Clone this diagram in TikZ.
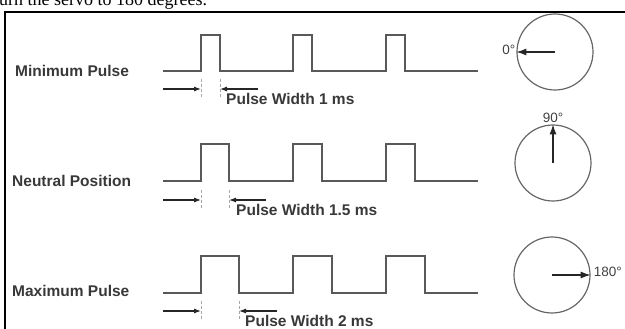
\documentclass[tikz,border=0pt]{standalone}
\usepackage{fontspec}
\setmainfont{Liberation Sans}
\newfontfamily\bodyserif{Liberation Serif}
\usetikzlibrary{arrows.meta,positioning}

\begin{document}
\begin{tikzpicture}[x=1pt,y=-1pt,
    wave/.style={draw=black!65, line width=1.3pt},
    dial/.style={draw=black!60, line width=1.2pt, circle, inner sep=0pt, minimum size=76pt},
    tickline/.style={draw=black!35, densely dashed, line width=0.6pt},
    dimarrow/.style={-{Latex[length=7pt,width=5pt]}, black!85, line width=1.1pt},
    needle/.style={-{Latex[length=10pt,width=7pt]}, black!85, line width=1.1pt},
    rowlabel/.style={font=\bfseries\fontsize{15.5}{17}\selectfont, text=black!78, inner sep=0pt, anchor=west},
    widthlabel/.style={font=\bfseries\fontsize{15.5}{17}\selectfont, text=black!78, inner sep=0pt, anchor=north west},
    deglabel/.style={font=\fontsize{13.5}{15}\selectfont, text=black!75, inner sep=0pt}]
    \useasboundingbox (0,0) rectangle (625,329);

    % Text line above the box
    \node[anchor=base west, inner sep=0pt, font=\bodyserif\fontsize{18}{20}\selectfont] (caption) at (-1,6) {urn the servo to 180 degrees.};

    % Box
    \draw[line width=1.5pt] (5,345) -- (5,12) -- (640,12);

    % Row labels
    \node[rowlabel] (minlabel) at (15,71) {Minimum Pulse};
    \node[rowlabel] (neutlabel) at (12,181) {Neutral Position};
    \node[rowlabel] (maxlabel) at (12,291) {Maximum Pulse};

    % Pulse trains
    \draw[wave] (163,71) -- (201,71) -- (201,35) -- (220,35) -- (220,71) -- (293,71) -- (293,35) -- (312,35) -- (312,71)
        -- (386,71) -- (386,35) -- (405,35) -- (405,71) -- (478,71);
    \draw[wave] (163,181) -- (201,181) -- (201,144) -- (229,144) -- (229,181) -- (293,181) -- (293,144) -- (322,144) -- (322,181)
        -- (386,181) -- (386,144) -- (415,144) -- (415,181) -- (478,181);
    \draw[wave] (163,293) -- (201,293) -- (201,256) -- (239,256) -- (239,293) -- (293,293) -- (293,256) -- (332,256) -- (332,293)
        -- (386,293) -- (386,256) -- (425,256) -- (425,293) -- (478,293);

    % Pulse width markers
    \coordinate (minfrom) at (163,89);
    \coordinate (minrise) at (201,89);
    \coordinate (minfall) at (220,89);
    \coordinate (minto) at (258,89);
    \draw[tickline] (201,79) -- (201,97);
    \draw[tickline] (220,79) -- (220,97);
    \draw[dimarrow] (minfrom) -- (minrise);
    \draw[dimarrow] (minto) -- (minfall);
    \node[widthlabel] (minwidth) at (226,93) {Pulse Width 1 ms};

    \coordinate (neutfrom) at (163,200);
    \coordinate (neutrise) at (201,200);
    \coordinate (neutfall) at (229,200);
    \coordinate (neutto) at (266,200);
    \draw[tickline] (201,190) -- (201,208);
    \draw[tickline] (229,190) -- (229,208);
    \draw[dimarrow] (neutfrom) -- (neutrise);
    \draw[dimarrow] (neutto) -- (neutfall);
    \node[widthlabel] (neutwidth) at (236,204) {Pulse Width 1.5 ms};

    \coordinate (maxfrom) at (163,311);
    \coordinate (maxrise) at (201,311);
    \coordinate (maxfall) at (239,311);
    \coordinate (maxto) at (277,311);
    \draw[tickline] (201,301) -- (201,321);
    \draw[tickline] (239,301) -- (239,321);
    \draw[dimarrow] (maxfrom) -- (maxrise);
    \draw[dimarrow] (maxto) -- (maxfall);
    \node[widthlabel] (maxwidth) at (245,315) {Pulse Width 2 ms};

    % Servo dials
    \node[dial] (mindial) at (555,52) {};
    \draw[needle] (mindial.center) -- (mindial.west);
    \node[deglabel, left=1pt of mindial.west, yshift=2pt] (zerodeg) {0°};

    \node[dial] (neutdial) at (553,163) {};
    \draw[needle] (neutdial.center) -- (neutdial.north);
    \node[deglabel, above=2pt of neutdial.north] (ninetydeg) {90°};

    \node[dial] (maxdial) at (552,275) {};
    \draw[needle] (maxdial.center) -- (maxdial.east);
    \node[deglabel, right=3pt of maxdial.east, yshift=3pt] (oneeightydeg) {180°};
\end{tikzpicture}
\end{document}
